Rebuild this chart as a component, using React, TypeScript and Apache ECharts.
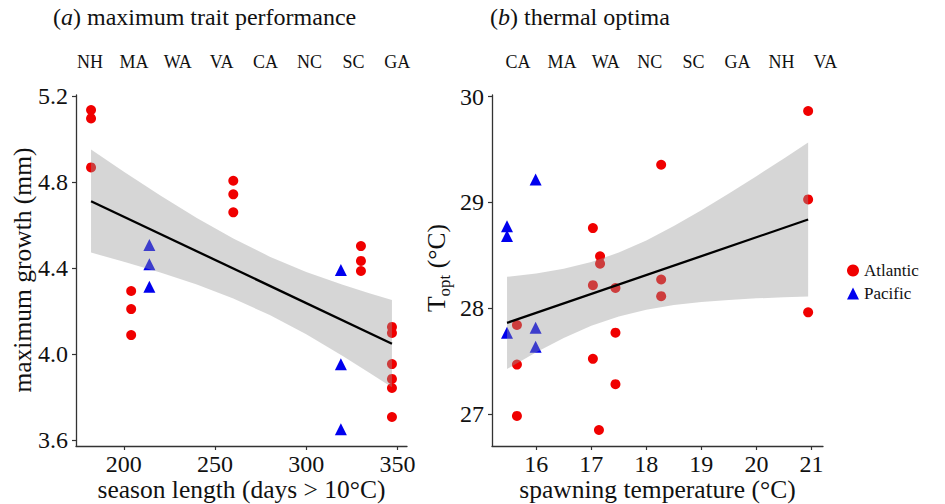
import { useEffect, useRef } from "react";
import * as echarts from "echarts";

// ---------- Panel (a): maximum trait performance ----------
const seasonAtlantic = [182, 182, 182, 204, 204, 204, 260, 260, 260, 330, 330, 330, 347, 347, 347, 347, 347, 347];
const growthAtlantic = [5.135, 5.096, 4.868, 4.293, 4.209, 4.088, 4.806, 4.743, 4.659, 4.502, 4.433, 4.386, 4.126, 4.098, 3.953, 3.884, 3.842, 3.707];
const seasonPacific = [214, 214, 214, 319, 319, 319];
const growthPacific = [4.507, 4.417, 4.313, 4.391, 3.952, 3.65];
const fitSeason = [182, 347];
const fitGrowth = [4.711, 4.048];
const bandSeason = [182, 200, 220, 240, 260, 280, 300, 320, 335, 347];
const bandGrowthLower = [4.472, 4.429, 4.379, 4.323, 4.258, 4.181, 4.092, 3.991, 3.911, 3.845];
const bandGrowthUpper = [4.951, 4.848, 4.738, 4.633, 4.537, 4.453, 4.382, 4.322, 4.281, 4.251];
const seasonTicks = [200, 250, 300, 350];
const growthTicks = [3.6, 4.0, 4.4, 4.8, 5.2];
const sitesA = ["NH", "MA", "WA", "VA", "CA", "NC", "SC", "GA"];

// ---------- Panel (b): thermal optima ----------
const tempAtlantic = [15.65, 15.65, 15.65, 17.03, 17.03, 17.03, 17.16, 17.16, 17.14, 17.44, 17.44, 17.44, 18.27, 18.27, 18.27, 20.94, 20.94, 20.94];
const toptAtlantic = [27.84, 27.465, 26.98, 28.757, 28.217, 27.52, 28.49, 28.42, 26.846, 28.19, 27.767, 27.28, 29.356, 28.27, 28.113, 29.865, 29.028, 27.96];
const tempPacific = [15.47, 15.47, 15.47, 15.99, 15.99, 15.99];
const toptPacific = [28.774, 28.682, 27.767, 29.217, 27.814, 27.635];
const fitTemp = [15.47, 20.94];
const fitTopt = [27.86, 28.838];
const bandTemp = [15.47, 16.0, 16.5, 17.0, 17.5, 18.0, 18.5, 19.0, 19.5, 20.0, 20.5, 20.94];
const bandToptLower = [27.424, 27.582, 27.717, 27.832, 27.921, 27.984, 28.028, 28.057, 28.077, 28.092, 28.102, 28.11];
const bandToptUpper = [28.296, 28.328, 28.371, 28.435, 28.525, 28.64, 28.776, 28.925, 29.083, 29.248, 29.416, 29.566];
const tempTicks = [16, 17, 18, 19, 20, 21];
const toptTicks = [27, 28, 29, 30];
const sitesB = ["CA", "MA", "WA", "NC", "SC", "GA", "NH", "VA"];

const legendNames = ["Atlantic", "Pacific"];

const FONT = "Liberation Serif";
const TXT = "#111111";
const RED = "#f00000";
const BLUE = "#0000ee";
const BAND = "rgba(153,153,153,0.4)";
const TITLE_SIZE = 25.5;

function zip(a: number[], b: number[]) {
  return a.map((v, i) => [v, b[i]]);
}

function bandSeries(xs: number[], lo: number[], hi: number[], idx: number) {
  return {
    type: "custom",
    xAxisIndex: idx,
    yAxisIndex: idx,
    z: 3,
    silent: true,
    data: xs.map((x, i) => [x, lo[i], hi[i]]),
    encode: { x: 0, y: [1, 2] },
    renderItem: (params: any, api: any) => {
      if (params.dataIndex !== 0) return { type: "group", children: [] };
      const pts: number[][] = [];
      for (let i = 0; i < xs.length; i++) pts.push(api.coord([xs[i], hi[i]]));
      for (let i = xs.length - 1; i >= 0; i--) pts.push(api.coord([xs[i], lo[i]]));
      return { type: "polygon", shape: { points: pts }, style: { fill: BAND } };
    },
  };
}

function axisCommon(ticks: number[], digits: number, margin: number) {
  return {
    type: "value",
    splitLine: { show: false },
    axisLine: { show: true, onZero: false, lineStyle: { color: "#333", width: 1.3 } },
    axisTick: { show: true, length: 4, customValues: ticks, lineStyle: { color: "#333", width: 1.2 } },
    axisLabel: {
      customValues: ticks,
      fontSize: 24,
      fontFamily: FONT,
      color: TXT,
      margin,
      formatter: (v: number) => v.toFixed(digits),
    },
  };
}

export default function App() {
  const ref = useRef<HTMLDivElement>(null);
  useEffect(() => {
    const chart = echarts.init(ref.current!, null, { renderer: "svg" });
    const siteText = (labels: string[], x0: number) =>
      labels.map((s, i) => ({
        type: "text",
        x: x0 + i * 43.9,
        y: 62,
        style: { text: s, fontSize: 18, fontFamily: FONT, fill: TXT, align: "center", verticalAlign: "middle" },
      }));
    const option: any = {
      animation: false,
      backgroundColor: "#ffffff",
      grid: [
        { left: 76, top: 95, width: 331, height: 351 },
        { left: 492, top: 95, width: 331, height: 351 },
      ],
      xAxis: [
        { ...axisCommon(seasonTicks, 0, 6), gridIndex: 0, min: 173.75, max: 355.25 },
        { ...axisCommon(tempTicks, 0, 6), gridIndex: 1, min: 15.197, max: 21.21 },
      ],
      yAxis: [
        { ...axisCommon(growthTicks, 1, 8), gridIndex: 0, min: 3.572, max: 5.205 },
        { ...axisCommon(toptTicks, 0, 8), gridIndex: 1, min: 26.695, max: 30.016 },
      ],
      legend: {
        orient: "vertical",
        left: 842,
        top: 257,
        itemWidth: 12,
        itemHeight: 12,
        itemGap: 6,
        data: [
          { name: legendNames[0], icon: "circle" },
          { name: legendNames[1], icon: "triangle" },
        ],
        textStyle: { fontSize: 17, fontFamily: FONT, color: TXT },
      },
      series: [
        {
          name: legendNames[0],
          type: "scatter",
          xAxisIndex: 0,
          yAxisIndex: 0,
          symbol: "circle",
          symbolSize: 10,
          itemStyle: { color: RED, opacity: 1 },
          data: zip(seasonAtlantic, growthAtlantic),
          z: 2,
        },
        {
          name: legendNames[1],
          type: "scatter",
          xAxisIndex: 0,
          yAxisIndex: 0,
          symbol: "triangle",
          symbolSize: 12,
          itemStyle: { color: BLUE, opacity: 1 },
          data: zip(seasonPacific, growthPacific),
          z: 2,
        },
        bandSeries(bandSeason, bandGrowthLower, bandGrowthUpper, 0),
        {
          type: "line",
          xAxisIndex: 0,
          yAxisIndex: 0,
          symbol: "none",
          lineStyle: { color: "#000", width: 2.3 },
          data: zip(fitSeason, fitGrowth),
          z: 4,
          silent: true,
        },
        {
          name: legendNames[0],
          type: "scatter",
          xAxisIndex: 1,
          yAxisIndex: 1,
          symbol: "circle",
          symbolSize: 10,
          itemStyle: { color: RED, opacity: 1 },
          data: zip(tempAtlantic, toptAtlantic),
          z: 2,
        },
        {
          name: legendNames[1],
          type: "scatter",
          xAxisIndex: 1,
          yAxisIndex: 1,
          symbol: "triangle",
          symbolSize: 12,
          itemStyle: { color: BLUE, opacity: 1 },
          data: zip(tempPacific, toptPacific),
          z: 2,
        },
        bandSeries(bandTemp, bandToptLower, bandToptUpper, 1),
        {
          type: "line",
          xAxisIndex: 1,
          yAxisIndex: 1,
          symbol: "none",
          lineStyle: { color: "#000", width: 2.3 },
          data: zip(fitTemp, fitTopt),
          z: 4,
          silent: true,
        },
      ],
      graphic: [
        {
          type: "text",
          x: 53,
          y: 17,
          style: {
            text: "({i|a}) maximum trait performance",
            fontSize: 24,
            fontFamily: FONT,
            fill: TXT,
            verticalAlign: "middle",
            rich: { i: { fontStyle: "italic", fontSize: 24, fontFamily: FONT, fill: TXT } },
          },
        },
        {
          type: "text",
          x: 490,
          y: 17,
          style: {
            text: "({i|b}) thermal optima",
            fontSize: 24,
            fontFamily: FONT,
            fill: TXT,
            verticalAlign: "middle",
            rich: { i: { fontStyle: "italic", fontSize: 24, fontFamily: FONT, fill: TXT } },
          },
        },
        ...siteText(sitesA, 90),
        ...siteText(sitesB, 518),
        {
          type: "text",
          x: 241.5,
          y: 489,
          style: { text: "season length (days > 10°C)", fontSize: TITLE_SIZE, fontFamily: FONT, fill: TXT, align: "center", verticalAlign: "middle" },
        },
        {
          type: "text",
          x: 657.5,
          y: 489,
          style: { text: "spawning temperature (°C)", fontSize: TITLE_SIZE, fontFamily: FONT, fill: TXT, align: "center", verticalAlign: "middle" },
        },
        {
          type: "text",
          x: 22,
          y: 270,
          rotation: Math.PI / 2,
          style: { text: "maximum growth (mm)", fontSize: TITLE_SIZE, fontFamily: FONT, fill: TXT, align: "center", verticalAlign: "middle" },
        },
        {
          type: "group",
          x: 436,
          y: 312,
          rotation: Math.PI / 2,
          children: [
            { type: "text", x: 0, y: 0, style: { text: "T", fontSize: TITLE_SIZE, fontFamily: FONT, fill: TXT, align: "left", verticalAlign: "middle" } },
            { type: "text", x: 15.6, y: 8, style: { text: "opt", fontSize: 17, fontFamily: FONT, fill: TXT, align: "left", verticalAlign: "middle" } },
            { type: "text", x: 37.5, y: 0, style: { text: " (°C)", fontSize: TITLE_SIZE, fontFamily: FONT, fill: TXT, align: "left", verticalAlign: "middle" } },
          ],
        },
      ],
    };
    chart.setOption(option);
    return () => chart.dispose();
  }, []);
  return <div ref={ref} style={{ position: "fixed", left: 0, top: 0, width: 945, height: 504 }} />;
}
